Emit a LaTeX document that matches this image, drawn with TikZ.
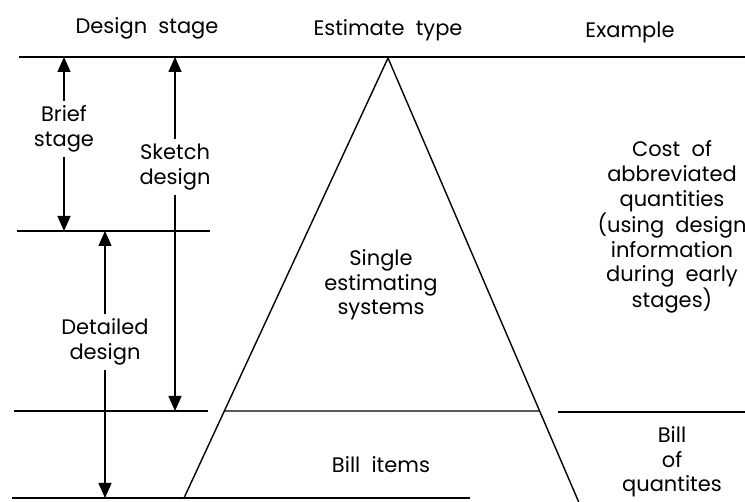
\documentclass[tikz,border=0pt]{standalone}
\usepackage{fontspec}
\setmainfont{Poppins}
\usetikzlibrary{arrows.meta, calc}

\begin{document}
\begin{tikzpicture}[
  x=1pt, y=-1pt,
  rule/.style={
    % The line:
    line width=1.4pt
  },
  span/.style={
    % The line:
    line width=1.4pt,
    % The head:
    -{Triangle[length=15pt, width=13pt]}
  },
  stagetext/.style={
    % text set between two arrow halves
    align=center,
    inner xsep=1pt,
    inner ysep=5pt,
    font=\fontsize{21}{24.7}\selectfont
  },
  blocktext/.style={
    % anchor=base sits on the last line
    align=center,
    inner sep=0pt,
    font=\fontsize{21}{24.7}\selectfont
  },
  ]

  \clip (0,0) rectangle (745,502);

  % Ruled lines
  \coordinate (apex) at (388,58);
  \coordinate (lbase) at (184,498);
  \coordinate (rbase) at (580,505);
  \coordinate (lmid) at ($(apex)!0.8023!(lbase)$);
  \coordinate (rmid) at ($(apex)!0.7897!(rbase)$);

  \draw [rule] (19,57) -- (745,57);
  \draw [rule] (17,231) -- (210,231);
  \draw [rule] (14,411) -- (208,411);
  \draw [rule] (lmid) -- (rmid);
  \draw [rule] (558,412) -- (745,412);
  \draw [rule] (12,498) -- (470,498);
  \draw [rule] (lbase) -- (apex) -- (rbase);

  % Headings
  \node (hdstage) [blocktext, anchor=base] at (147,34) {Design\ \ stage};
  \node (hdtype) [blocktext, anchor=base] at (388,36) {Estimate\ \ type};
  \node (hdexample) [blocktext, anchor=base] at (630,38) {Example};

  % Stage spans
  \coordinate (brief top) at (64,57);
  \coordinate (brief bottom) at (64,231);
  \coordinate (sketch top) at (175,57);
  \coordinate (sketch bottom) at (175,411);
  \coordinate (detailed top) at (105,231);
  \coordinate (detailed bottom) at (105,498);

  \node (brief) [stagetext] at (64,129) {Brief\\stage};
  \node (sketch) [stagetext] at (175,167) {Sketch\\design};
  \node (detailed) [stagetext] at (105,342) {Detailed\\design};

  \draw [span] (brief.north) -- (brief top);
  \draw [span] (brief.south) -- (brief bottom);
  \draw [span] (sketch.north) -- (sketch top);
  \draw [span] (sketch.south) -- (sketch bottom);
  \draw [span] (detailed.north) -- (detailed top);
  \draw [span] (detailed.south) -- (detailed bottom);

  % Estimate types
  \node (single) [blocktext, anchor=base] at (381,315) {Single\\estimating\\systems};
  \node (items) [blocktext, anchor=base] at (381,473) {Bill\ \ items};

  % Examples
  \node (abbrev) [blocktext, anchor=base] at (672,308)
    {Cost\ \ of\\abbreviated\\quantities\\(using\ \ design\\information\\during\ \ early\\stages)};
  \node (boq) [blocktext, anchor=base] at (672,492) {Bill\\of\\quantites};

\end{tikzpicture}
\end{document}
